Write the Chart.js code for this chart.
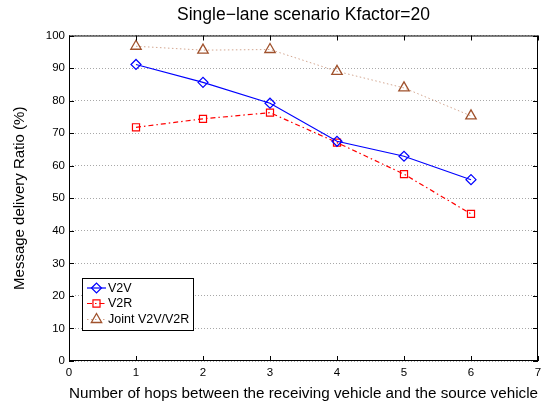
<!DOCTYPE html>
<html lang="en">
<head>
<meta charset="UTF-8">
<title>Single-lane scenario Kfactor=20</title>
<script src="https://cdn.jsdelivr.net/npm/chart.js@4.4.0/dist/chart.umd.min.js"></script>
<style>
  html, body { margin: 0; padding: 0; background: #fff; }
</style>
</head>
<body>
<canvas id="myChart" width="551" height="407"></canvas>
<script>
// values
const hops = [1, 2, 3, 4, 5, 6];
const v2v = [91.1, 85.6, 79.2, 67.5, 62.9, 55.7];
const v2r = [71.8, 74.4, 76.3, 67.1, 57.4, 45.2];
const joint = [96.7, 95.5, 95.7, 89.0, 83.9, 75.3];
const xTicks = [0, 1, 2, 3, 4, 5, 6, 7];
const yTicks = [0, 10, 20, 30, 40, 50, 60, 70, 80, 90, 100];

const FONT = "'Liberation Sans', Arial, Helvetica, sans-serif";
Chart.defaults.font.family = FONT;
Chart.defaults.color = '#000';

function pts(ys) {
  return hops.map((h, i) => ({ x: h, y: ys[i] }));
}

// marker shapes for the hand drawn legend (same geometry as chart.js)
function marker(ctx, style, x, y, r) {
  ctx.beginPath();
  if (style === 'rectRot') {
    ctx.moveTo(x - r, y); ctx.lineTo(x, y - r); ctx.lineTo(x + r, y); ctx.lineTo(x, y + r);
  } else if (style === 'rect') {
    const s = Math.SQRT1_2 * r;
    ctx.rect(x - s, y - s, 2 * s, 2 * s);
  } else {
    ctx.moveTo(x, y - r);
    ctx.lineTo(x + 0.866 * r, y + 0.5 * r);
    ctx.lineTo(x - 0.866 * r, y + 0.5 * r);
  }
  ctx.closePath();
  ctx.stroke();
}

const matlabFrame = {
  id: 'matlabFrame',
  afterDraw(chart) {
    const { ctx, chartArea: a, scales: { x, y } } = chart;
    ctx.save();
    ctx.strokeStyle = '#000';
    ctx.lineWidth = 1;
    ctx.setLineDash([]);
    ctx.strokeRect(a.left + 0.5, a.top + 0.5, a.right - a.left - 1, a.bottom - a.top - 1);
    // inward ticks
    ctx.beginPath();
    xTicks.forEach(v => {
      const px = Math.round(x.getPixelForValue(v)) + 0.5;
      ctx.moveTo(px, a.bottom); ctx.lineTo(px, a.bottom - 5);
      ctx.moveTo(px, a.top); ctx.lineTo(px, a.top + 5);
    });
    yTicks.forEach(v => {
      const py = Math.round(y.getPixelForValue(v)) + 0.5;
      ctx.moveTo(a.left, py); ctx.lineTo(a.left + 5, py);
      ctx.moveTo(a.right, py); ctx.lineTo(a.right - 5, py);
    });
    ctx.stroke();

    // legend box, bottom left inside the axes
    const lx = 82.5, ly = 278.5, lw = 111, lh = 52;
    ctx.fillStyle = '#fff';
    ctx.fillRect(lx, ly, lw, lh);
    ctx.strokeRect(lx, ly, lw, lh);
    const rows = [288, 303.5, 319.5];
    ctx.font = '12.5px ' + FONT;
    ctx.textBaseline = 'middle';
    chart.data.datasets.forEach((ds, i) => {
      const ry = rows[i];
      ctx.strokeStyle = ds.borderColor;
      ctx.lineWidth = ds.borderWidth;
      ctx.setLineDash(ds.borderDash || []);
      ctx.beginPath();
      ctx.moveTo(87, ry); ctx.lineTo(106, ry);
      ctx.stroke();
      ctx.setLineDash([]);
      ctx.strokeStyle = ds.pointBorderColor;
      ctx.lineWidth = ds.pointBorderWidth;
      marker(ctx, ds.pointStyle, 96.5, ry, ds.pointRadius);
      ctx.fillStyle = '#000';
      ctx.fillText(ds.label, 108, ry + 0.5);
    });
    ctx.restore();
  }
};

const ctx = document.getElementById('myChart').getContext('2d');
const myChart = new Chart(ctx, {
  type: 'line',
  data: {
    datasets: [
      {
        label: 'V2V',
        data: pts(v2v),
        borderColor: '#0000ff',
        borderWidth: 1.2,
        pointStyle: 'rectRot',
        pointRadius: 5,
        pointBorderColor: '#0000ff',
        pointBackgroundColor: 'rgba(0,0,0,0)',
        pointBorderWidth: 1.2
      },
      {
        label: 'V2R',
        data: pts(v2r),
        borderColor: '#ff0000',
        borderWidth: 1.2,
        borderDash: [5, 3, 1.5, 3],
        pointStyle: 'rect',
        pointRadius: 5,
        pointBorderColor: '#ff0000',
        pointBackgroundColor: 'rgba(0,0,0,0)',
        pointBorderWidth: 1.2
      },
      {
        label: 'Joint V2V/V2R',
        data: pts(joint),
        borderColor: 'rgba(175,95,55,0.55)',
        borderWidth: 1,
        borderDash: [1.5, 2.5],
        pointStyle: 'triangle',
        pointRadius: 6,
        pointBorderColor: '#a0522d',
        pointBackgroundColor: 'rgba(0,0,0,0)',
        pointBorderWidth: 1.3
      }
    ]
  },
  options: {
    responsive: false,
    animation: false,
    layout: { padding: { left: 0, right: 13, top: 0, bottom: 0 } },
    plugins: {
      legend: { display: false },
      tooltip: { enabled: false },
      title: {
        display: true,
        fullSize: false,
        text: 'Single\u2212lane scenario Kfactor=20',
        color: '#000',
        font: { size: 17.5, weight: 'normal' },
        padding: { top: 5, bottom: 9.5 }
      }
    },
    scales: {
      x: {
        type: 'linear',
        min: 0,
        max: 7,
        afterFit(scale) { scale.height = 46; },
        afterBuildTicks(scale) { scale.ticks = xTicks.map(v => ({ value: v })); },
        grid: { display: false, drawTicks: false },
        border: { display: false },
        ticks: { padding: 5, font: { size: 11.5 }, color: '#000', maxRotation: 0 },
        title: {
          display: true,
          text: 'Number of hops between the receiving vehicle and the source vehicle',
          font: { size: 15.5 },
          color: '#000',
          padding: { top: 0, bottom: 3.5 }
        }
      },
      y: {
        min: 0,
        max: 100,
        afterFit(scale) { scale.width = 69; },
        afterBuildTicks(scale) { scale.ticks = yTicks.map(v => ({ value: v })); },
        grid: { color: '#a8a8a8', lineWidth: 1, drawTicks: false, borderDash: [1, 2] },
        border: { display: false, dash: [1, 2] },
        ticks: { padding: 4, font: { size: 11.5 }, color: '#000' },
        title: {
          display: true,
          text: 'Message delivery Ratio (%)',
          font: { size: 15 },
          color: '#000',
          padding: { top: 11, bottom: 0 }
        }
      }
    }
  },
  plugins: [matlabFrame]
});
</script>
</body>
</html>
